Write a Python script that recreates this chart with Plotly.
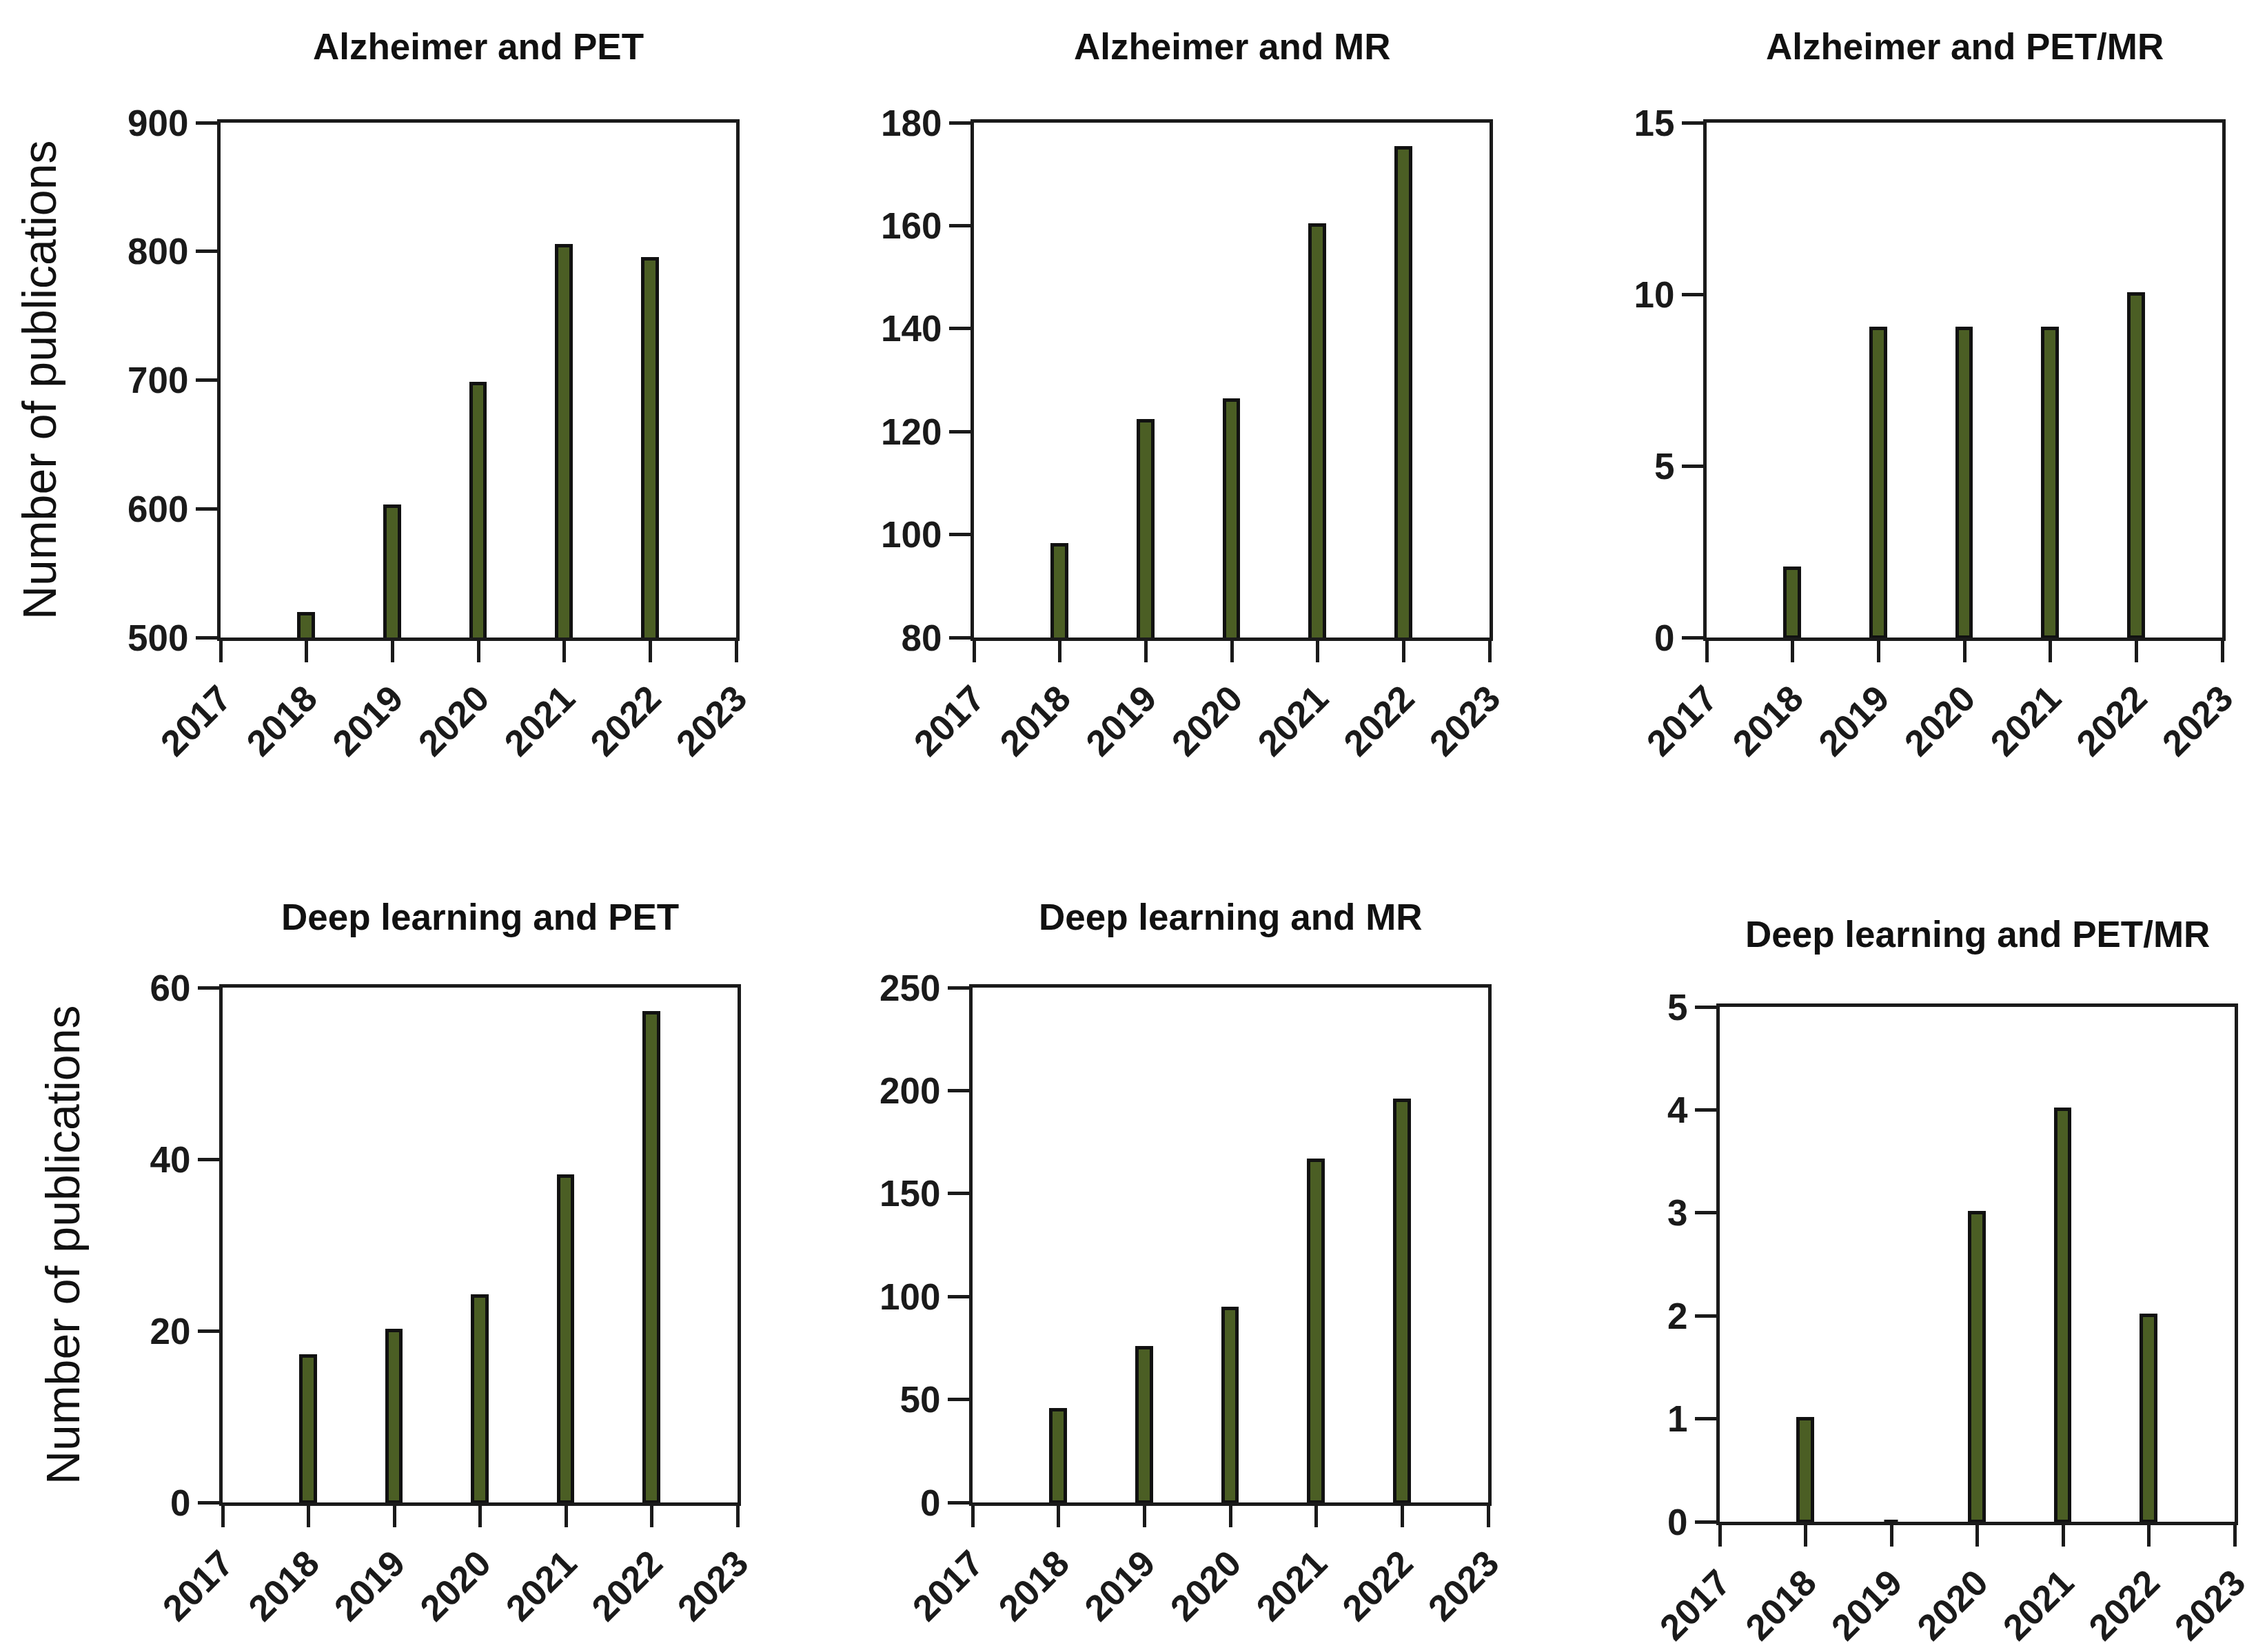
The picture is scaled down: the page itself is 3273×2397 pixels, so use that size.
import plotly.graph_objects as go

W, H = 3273, 2397

years = [2018, 2019, 2020, 2021, 2022]
alz_pet = [518, 602, 697, 804, 794]
alz_mr = [98, 122, 126, 160, 175]
alz_petmr = [2, 9, 9, 9, 10]
dl_pet = [17, 20, 24, 38, 57]
dl_mr = [45, 75, 94, 166, 195]
dl_petmr = [1, 0, 3, 4, 2]

titles = ["Alzheimer and PET", "Alzheimer and MR", "Alzheimer and PET/MR",
          "Deep learning and PET", "Deep learning and MR", "Deep learning and PET/MR"]
series = [alz_pet, alz_mr, alz_petmr, dl_pet, dl_mr, dl_petmr]
y_ranges = [(500, 900), (80, 180), (0, 15), (0, 60), (0, 250), (0, 5)]
y_dticks = [100, 20, 5, 20, 50, 1]
x_ticks = [2017, 2018, 2019, 2020, 2021, 2022, 2023]
y_label = "Number of publications"

# plot-area pixel boxes: (left, right, top, bottom)
boxes = [
    (312, 1060, 170, 917),
    (1405, 2153, 170, 917),
    (2468, 3216, 170, 917),
    (315, 1062, 1425, 2172),
    (1403, 2151, 1425, 2172),
    (2487, 3234, 1453, 2200),
]
title_y = [59, 59, 59, 1322, 1322, 1347]

fig = go.Figure()
tick_font = dict(family="Liberation Sans", size=53, color="#1a1a1a", weight="bold")
annotations = []
for i, (vals, (l, r, t, b)) in enumerate(zip(series, boxes)):
    xa = "x" if i == 0 else f"x{i+1}"
    ya = "y" if i == 0 else f"y{i+1}"
    fig.add_trace(go.Bar(
        x=years, y=vals, width=0.165, xaxis=xa, yaxis=ya,
        marker=dict(color="#4B5E24", line=dict(color="#111111", width=5)),
        showlegend=False,
    ))
    key = "" if i == 0 else str(i + 1)
    fig.layout["xaxis" + key] = dict(
        domain=[l / W, r / W], anchor=ya, range=[x_ticks[0], x_ticks[-1]],
        tickvals=x_ticks, ticktext=[str(v) for v in x_ticks], tickangle=-45,
        showline=True, linecolor="#1a1a1a", linewidth=5, mirror=True,
        ticks="outside", ticklen=31, tickwidth=5, tickcolor="#1a1a1a",
        showgrid=False, zeroline=False, tickfont=tick_font, automargin=False,
    )
    fig.layout["yaxis" + key] = dict(
        domain=[1 - b / H, 1 - t / H], anchor=xa, range=list(y_ranges[i]),
        dtick=y_dticks[i], tick0=y_ranges[i][0],
        showline=True, linecolor="#1a1a1a", linewidth=5, mirror=True,
        ticks="outside", ticklen=31, tickwidth=5, tickcolor="#1a1a1a",
        showgrid=False, zeroline=False, tickfont=tick_font, automargin=False,
    )
    annotations.append(dict(
        text=titles[i], x=(l + r) / 2 / W, y=1 - title_y[i] / H,
        xref="paper", yref="paper", showarrow=False, xanchor="center", yanchor="middle",
        font=dict(family="Liberation Sans", size=53, color="#111111", weight="bold"),
    ))

for xc, yc in [(49, 544), (83, 1799)]:
    annotations.append(dict(
        text=y_label, x=xc / W, y=1 - yc / H, xref="paper", yref="paper",
        showarrow=False, textangle=-90, xanchor="center", yanchor="middle",
        font=dict(family="Liberation Sans", size=68, color="#111111"),
    ))

fig.update_layout(
    template="none",
    width=W, height=H, margin=dict(l=0, r=0, t=0, b=0, pad=0),
    paper_bgcolor="white", plot_bgcolor="white",
    annotations=annotations, bargap=0, showlegend=False,
)
fig.write_html("out.html")
